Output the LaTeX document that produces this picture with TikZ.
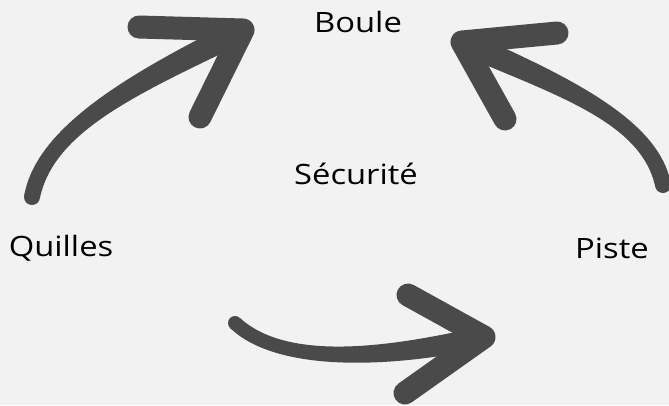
\documentclass[tikz,border=0pt]{standalone}
\usepackage{fontspec}
\setmainfont{Open Sans}[FakeStretch=1.17]
\definecolor{bgc}{HTML}{F2F2F2}
\definecolor{arr}{HTML}{4A4A4A}
\tikzset{
  lbl/.style={font=\fontsize{28}{32}\selectfont, text=black, inner sep=0pt},
  shaft/.style={fill=arr},
  head/.style={draw=arr, line width=23pt, line cap=round, line join=round}
}
\begin{document}
\begin{tikzpicture}[x=1pt,y=-1pt]
\fill[bgc] (0,0) rectangle (669,405);
\useasboundingbox (0,0) rectangle (669,405);
\node[lbl] (boule) at (358,22) {Boule};
\node[lbl] (secu) at (356,174) {Sécurité};
\node[lbl] (quilles) at (61,248) {Quilles};
\node[lbl] (piste) at (612,248) {Piste};
% arrow 1
\coordinate (a1s) at (32,197);
\coordinate (a1t) at (243,30);
\coordinate (a1u) at (139,27);
\coordinate (a1l) at (200,117);
\fill[shaft] (39.8,198.5) .. controls (53.8,131.7) and (134.8,94.9) .. (248.3,40.8)
  -- (237.8,19.2) .. controls (125.2,75.1) and (36.2,128.3) .. (24.2,195.5) -- cycle;
\fill[shaft] (a1s) circle[radius=8];
\draw[head] (a1u) -- (a1t) -- (a1l);
% arrow 2
\coordinate (a2s) at (663,185);
\coordinate (a2t) at (462,42);
\coordinate (a2u) at (557,33);
\coordinate (a2l) at (505,119);
\fill[shaft] (670.8,183.4) .. controls (658.8,118.2) and (564.4,74.9) .. (466.8,31.0)
  -- (457.2,53.0) .. controls (555.6,95.1) and (641.2,121.8) .. (655.2,186.6) -- cycle;
\fill[shaft] (a2s) circle[radius=8];
\draw[head] (a2u) -- (a2t) -- (a2l);
% arrow 3
\coordinate (a3s) at (235,323);
\coordinate (a3t) at (484,337);
\coordinate (a3u) at (408,295);
\coordinate (a3l) at (405,393);
\fill[shaft] (230.2,328.1) .. controls (274.6,370.8) and (382.2,369.8) .. (486.4,347.7)
  -- (481.6,326.3) .. controls (377.8,350.2) and (285.4,359.2) .. (239.8,317.9) -- cycle;
\fill[shaft] (a3s) circle[radius=7];
\draw[head] (a3u) -- (a3t) -- (a3l);
\end{tikzpicture}
\end{document}
